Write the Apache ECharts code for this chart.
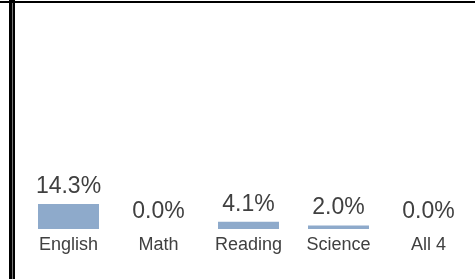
<!DOCTYPE html>
<html>
<head>
<meta charset="utf-8">
<script src="https://cdn.jsdelivr.net/npm/echarts@6/dist/echarts.min.js"></script>
<style>
  html,body{margin:0;padding:0;background:#fff;}
  #main{width:475px;height:279px;}
</style>
</head>
<body>
<div id="main"></div>
<script>
// subjects and their share
var subjects = ["English", "Math", "Reading", "Science", "All 4"];
var percents = [14.3, 0.0, 4.1, 2.0, 0.0];

var myChart = echarts.init(document.getElementById("main"));
var option = {
    animation: false,
    grid: {left: 23.5, right: 1.5, top: 54, bottom: 50},
    xAxis: {
        type: "category",
        data: subjects,
        axisLine: {show: false},
        axisTick: {show: false},
        axisLabel: {
            color: "#404040",
            fontSize: 18,
            fontFamily: "Liberation Sans, Arial",
            margin: 7
        }
    },
    yAxis: {
        type: "value",
        min: 0,
        max: 100,
        show: false
    },
    series: [{
        type: "bar",
        data: percents,
        barWidth: 61,
        itemStyle: {color: "#8eaacb"},
        label: {
            show: true,
            position: "top",
            distance: 6,
            color: "#404040",
            fontSize: 23,
            fontFamily: "Liberation Sans, Arial",
            formatter: function (p) { return p.value.toFixed(1) + "%"; }
        }
    }],
    graphic: [
        // frame: top rule and heavy left rule
        {type: "rect", shape: {x: 0, y: 1, width: 475, height: 2}, style: {fill: "#000"}},
        {type: "rect", shape: {x: 9, y: 0, width: 6, height: 279}, style: {fill: "#000"}},
        {type: "rect", shape: {x: 12, y: 3, width: 1, height: 276}, style: {fill: "#777"}}
    ]
};
myChart.setOption(option);
</script>
</body>
</html>
